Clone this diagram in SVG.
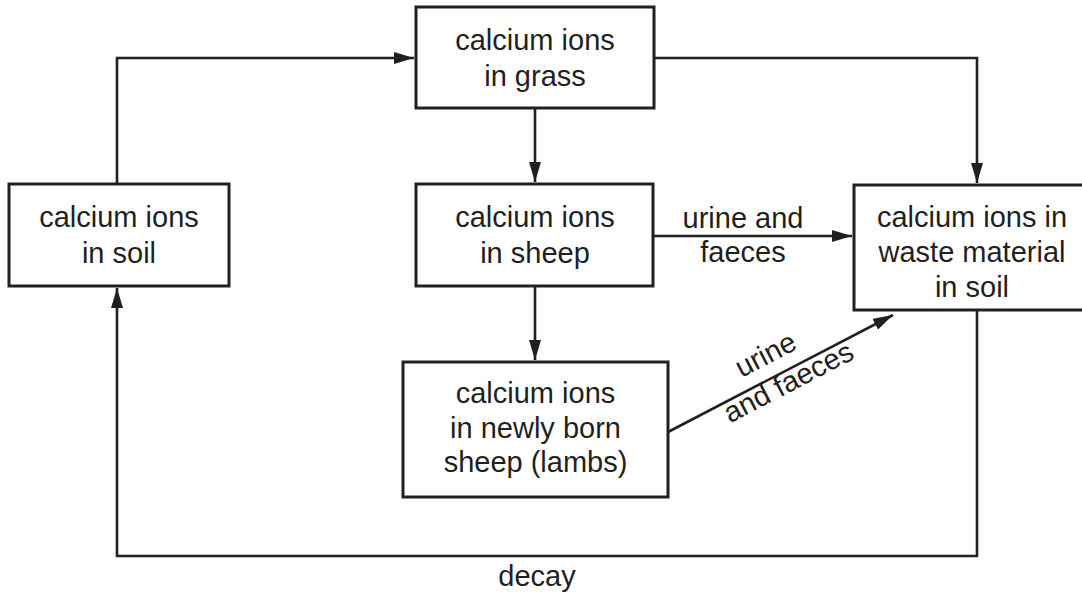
<svg xmlns="http://www.w3.org/2000/svg" width="1082" height="597" viewBox="0 0 1082 597">
  <style>
    .box { fill: #ffffff; stroke: #231f20; stroke-width: 3; }
    .t { font-family: "Liberation Sans", Arial, Helvetica, sans-serif; font-size: 29px; fill: #231f20; text-anchor: middle; }
    .c { fill: none; stroke: #231f20; stroke-width: 2.6; }
  </style>
  <defs>
    <marker id="arr" markerUnits="userSpaceOnUse" markerWidth="20" markerHeight="12" refX="20" refY="6" orient="auto">
      <path d="M0,0 L20,6 L0,12 Z" fill="#231f20"/>
    </marker>
  </defs>
  <rect width="1082" height="597" fill="#ffffff"/>

  <g id="connectors">
    <path class="c" d="M117,184 V58 H414" marker-end="url(#arr)"/>
    <path class="c" d="M654,58 H977 V183" marker-end="url(#arr)"/>
    <path class="c" d="M535,108 V182" marker-end="url(#arr)"/>
    <path class="c" d="M535,286 V360" marker-end="url(#arr)"/>
    <path class="c" d="M653,236 H852" marker-end="url(#arr)"/>
    <path class="c" d="M668,432 L893,315" marker-end="url(#arr)"/>
    <path class="c" d="M977,310 V556 H117 V288" marker-end="url(#arr)"/>
    <text class="t" x="743" y="228">urine and</text>
    <text class="t" x="743" y="262">faeces</text>
    <g transform="translate(780.5,373.5) rotate(-27.5)">
      <text class="t" x="-4.5" y="-14">urine</text>
      <text class="t" x="3" y="21">and faeces</text>
    </g>
    <text class="t" x="537" y="586">decay</text>
  </g>

  <g id="grass">
    <rect class="box" x="416" y="7" width="238" height="101"/>
    <text class="t" x="535" y="50">calcium ions</text>
    <text class="t" x="535" y="86">in grass</text>
  </g>
  <g id="soil">
    <rect class="box" x="9" y="184" width="220" height="102"/>
    <text class="t" x="119" y="227">calcium ions</text>
    <text class="t" x="119" y="263">in soil</text>
  </g>
  <g id="sheep">
    <rect class="box" x="416" y="184" width="237" height="102"/>
    <text class="t" x="535" y="227">calcium ions</text>
    <text class="t" x="535" y="263">in sheep</text>
  </g>
  <g id="waste">
    <rect class="box" x="854" y="185" width="240" height="125"/>
    <text class="t" x="972" y="227">calcium ions in</text>
    <text class="t" x="972" y="262">waste material</text>
    <text class="t" x="972" y="297">in soil</text>
  </g>
  <g id="lambs">
    <rect class="box" x="403" y="362" width="265" height="135"/>
    <text class="t" x="535.5" y="403">calcium ions</text>
    <text class="t" x="535.5" y="438">in newly born</text>
    <text class="t" x="535.5" y="472">sheep (lambs)</text>
  </g>
</svg>
